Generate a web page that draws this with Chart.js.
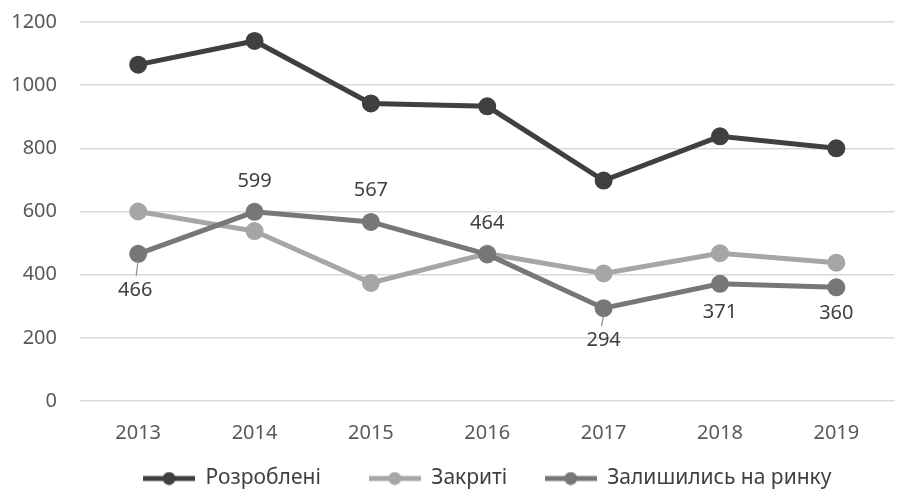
<!DOCTYPE html>
<html><head><meta charset="utf-8">
<script src="https://cdn.jsdelivr.net/npm/chart.js@4"></script>
<style>html,body{margin:0;padding:0;background:#fff;overflow:hidden}#wrap{width:906px;height:490px;position:relative}</style>
</head><body><div id="wrap"><canvas id="c"></canvas></div>
<script>
const years = ['2013', '2014', '2015', '2016', '2017', '2018', '2019'];
const developed = [1065, 1140, 942, 933, 698, 838, 800];
const closed = [600, 538, 374, 467, 404, 468, 438];
const remaining = [466, 599, 567, 464, 294, 371, 360];
const seriesNames = ['Розроблені', 'Закриті', 'Залишились на ринку'];
const yMin = 0, yMax = 1200, yStep = 200;

// style only: vertical label offsets (px) for data labels of the third series
const labelOffsets = [36, -31, -32, -31, 32, 28, 26];
const leaderIdx = [0, 4];

const colors = ['#404040', '#a6a6a6', '#777777'];
const FONT = '"Noto Sans", "Open Sans", sans-serif';

function markerImg(color) {
  const c = document.createElement('canvas');
  c.width = 52; c.height = 14;
  const x = c.getContext('2d');
  x.strokeStyle = color; x.lineWidth = 5;
  x.beginPath(); x.moveTo(0, 7); x.lineTo(52, 7); x.stroke();
  x.fillStyle = color; x.beginPath(); x.arc(26, 7, 6.5, 0, Math.PI * 2); x.fill();
  return c;
}

const labelPlugin = {
  id: 'vlabels',
  afterDatasetsDraw(chart) {
    const meta = chart.getDatasetMeta(2);
    const ctx = chart.ctx;
    ctx.save();
    ctx.font = '20px ' + FONT;
    ctx.fillStyle = '#404040';
    ctx.textAlign = 'center';
    ctx.textBaseline = 'middle';
    meta.data.forEach((pt, i) => {
      const off = labelOffsets[i];
      if (leaderIdx.includes(i)) {
        ctx.strokeStyle = '#8a8a8a'; ctx.lineWidth = 1.2;
        ctx.beginPath(); ctx.moveTo(pt.x, pt.y + 6); ctx.lineTo(pt.x - 2, pt.y + off - 14); ctx.stroke();
      }
      ctx.fillText(String(remaining[i]), pt.x - (i === 0 ? 3 : 0), pt.y + off);
    });
    ctx.restore();
  }
};

const values = [developed, closed, remaining];
new Chart(document.getElementById('c'), {
  type: 'line',
  data: {
    labels: years,
    datasets: values.map((v, i) => ({
      label: seriesNames[i],
      data: v,
      borderColor: colors[i],
      backgroundColor: colors[i],
      pointBackgroundColor: colors[i],
      pointBorderColor: colors[i],
      borderWidth: 5,
      pointRadius: 6.5,
      pointHoverRadius: 6.5,
      pointStyle: 'circle',
      tension: 0,
      order: 2 - i
    }))
  },
  options: {
    responsive: true,
    maintainAspectRatio: false,
    animation: false,
    layout: { padding: { left: 0, right: 0, top: 22, bottom: -9 } },
    scales: {
      x: {
        offset: true,
        grid: { display: false, drawTicks: false },
        border: { display: false },
        ticks: { color: '#595959', font: { family: FONT, size: 20 }, padding: 20 },
        afterFit(s) { s.height = 61; s.paddingLeft = 0; s.paddingRight = 0; }
      },
      y: {
        min: yMin, max: yMax,
        grid: { color: '#d9d9d9', lineWidth: 1.5, drawTicks: false },
        border: { display: false },
        ticks: { stepSize: yStep, color: '#595959', font: { family: FONT, size: 20 }, padding: 23,
          callback: (v) => String(v) },
        afterFit(s) { s.width = 80; s.paddingTop = 0; s.paddingBottom = 0; }
      }
    },
    plugins: {
      tooltip: { enabled: false },
      legend: {
        position: 'bottom',
        fullSize: false,
        labels: {
          usePointStyle: true,
          pointStyleWidth: 52,
          padding: 6,
          color: '#404040',
          font: { family: FONT, size: 21 },
          generateLabels(chart) {
            return chart.data.datasets.map((d, i) => ({
              text: d.label + (i === 0 ? '\u2003\u2003' : (i === 1 ? '\u2003\u2002' : '')),
              fillStyle: colors[i],
              strokeStyle: colors[i],
              fontColor: '#404040',
              lineWidth: 0,
              pointStyle: markerImg(colors[i]),
              datasetIndex: i,
              hidden: false
            }));
          }
        }
      }
    }
  },
  plugins: [labelPlugin]
});
</script></body></html>
